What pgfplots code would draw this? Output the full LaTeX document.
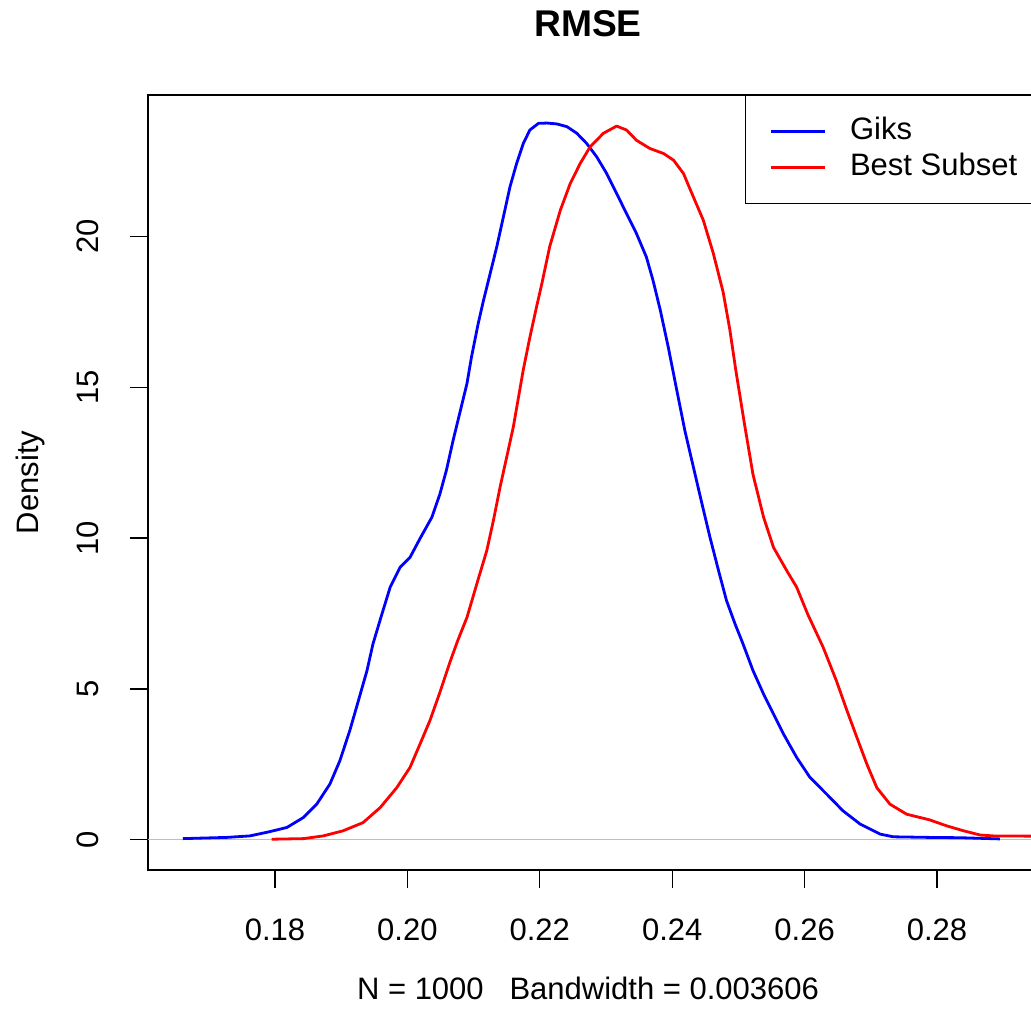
\documentclass[border=0pt]{standalone}
\usepackage{fontspec}
\setmainfont{Liberation Sans}
\usepackage{pgfplots}
\pgfplotsset{compat=1.18}
\definecolor{rblue}{RGB}{0,0,255}
\definecolor{rred}{RGB}{255,0,0}
\definecolor{rgray}{RGB}{190,190,190}
\newcommand{\fs}{\fontsize{15.5}{18}\selectfont}
\begin{document}
\begin{tikzpicture}
\path[use as bounding box] (0,0) rectangle (515.5pt,508.5pt);
\clip (0,0) rectangle (515.5pt,508.5pt);
\begin{axis}[
  at={(74pt,73.5pt)}, anchor=south west,
  scale only axis, width=442.5pt, height=387.5pt,
  xmin=0.16082, xmax=0.2945, ymin=-1.0, ymax=24.68,
  axis line style={line width=0.6pt},
  tick pos=left, tick align=outside, major tick length=9pt,
  tick style={black, line width=0.6pt},
  xtick={0.18,0.20,0.22,0.24,0.26,0.28},
  xticklabels={0.18,0.20,0.22,0.24,0.26,0.28},
  ytick={0,5,10,15,20},
  yticklabels={0,5,10,15,20},
  ticklabel style={font=\fs, inner sep=0pt},
  xticklabel style={anchor=center, yshift=-21pt},
  yticklabel style={xshift=-21pt, rotate=90, anchor=center},
  title={RMSE},
  title style={font=\fontsize{18.6}{22}\selectfont\bfseries, at={(axis description cs:0.4972,1.076)}, anchor=center, inner sep=0pt},
  xlabel={N = 1000\ \ \ Bandwidth = 0.003606},
  xlabel style={font=\fs, at={(axis description cs:0.4972,-0.1523)}, anchor=center, inner sep=0pt},
  ylabel={Density},
  ylabel style={font=\fs, at={(axis description cs:-0.1333,0.5)}, anchor=center, inner sep=0pt},
  legend style={at={(axis description cs:0.67458,1)}, anchor=north west, draw=black, line width=0.6pt, fill=white,
    inner xsep=12pt, inner ysep=9pt, font=\fs, row sep=0pt, cells={anchor=west},
    nodes={inner sep=0pt, text height=13pt, text depth=5pt}},
  legend image code/.code={\draw[#1] (0pt,0pt) -- (27pt,0pt); \path[draw=none,fill=none] (27pt,0pt) -- (39.5pt,0pt);},
  every axis plot/.append style={line width=1.4pt, line join=round},
]
\addplot[rgray, line width=0.5pt, forget plot] coordinates {(0.15,0) (0.30,0)};
\addplot[rblue] coordinates {
(0.1661,0.04) (0.1727,0.08) (0.1762,0.13) (0.1792,0.27) (0.1818,0.41) (0.1843,0.74)
(0.1863,1.18) (0.1883,1.85) (0.1898,2.62) (0.1913,3.62) (0.1926,4.61) (0.1939,5.61)
(0.1948,6.49) (0.1960,7.37) (0.1974,8.37) (0.1989,9.03) (0.2004,9.36) (0.2019,9.98)
(0.2037,10.69) (0.2049,11.45) (0.2059,12.25) (0.2069,13.23) (0.2079,14.13) (0.2090,15.12)
(0.2097,16.02) (0.2107,17.11) (0.2115,17.88) (0.2125,18.76) (0.2135,19.65) (0.2145,20.64)
(0.2155,21.64) (0.2165,22.41) (0.2175,23.07) (0.2185,23.52) (0.2198,23.74) (0.2211,23.75)
(0.2226,23.72) (0.2241,23.63) (0.2256,23.41) (0.2271,23.07) (0.2286,22.63) (0.2301,22.08)
(0.2316,21.42) (0.2331,20.75) (0.2346,20.09) (0.2361,19.31) (0.2371,18.54) (0.2382,17.55)
(0.2394,16.33) (0.2407,14.89) (0.2419,13.57) (0.2432,12.35) (0.2445,11.13) (0.2457,10.03)
(0.2470,8.92) (0.2482,7.93) (0.2495,7.15) (0.2507,6.49) (0.2522,5.61) (0.2538,4.83)
(0.2553,4.17) (0.2568,3.51) (0.2588,2.73) (0.2608,2.07) (0.2633,1.52) (0.2658,0.96)
(0.2684,0.52) (0.2714,0.19) (0.2734,0.10) (0.2789,0.08) (0.2835,0.07) (0.2895,0.03)
};
\addlegendentry{Giks}
\addplot[rred] coordinates {
(0.1795,0.02) (0.1843,0.04) (0.1873,0.13) (0.1903,0.30) (0.1933,0.57) (0.1959,1.07)
(0.1984,1.73) (0.2004,2.40) (0.2019,3.17) (0.2034,3.95) (0.2049,4.88) (0.2064,5.87)
(0.2076,6.60) (0.2090,7.37) (0.2105,8.49) (0.2120,9.59) (0.2130,10.59) (0.2140,11.69)
(0.2150,12.68) (0.2160,13.68) (0.2167,14.56) (0.2175,15.57) (0.2185,16.65) (0.2195,17.65)
(0.2203,18.42) (0.2215,19.66) (0.2231,20.86) (0.2246,21.75) (0.2261,22.41) (0.2276,22.96)
(0.2296,23.41) (0.2316,23.65) (0.2331,23.52) (0.2346,23.18) (0.2366,22.91) (0.2387,22.74)
(0.2402,22.52) (0.2417,22.08) (0.2432,21.30) (0.2447,20.53) (0.2462,19.44) (0.2477,18.14)
(0.2487,16.91) (0.2496,15.57) (0.2509,13.80) (0.2522,12.11) (0.2538,10.69) (0.2553,9.69)
(0.2573,8.92) (0.2588,8.37) (0.2605,7.46) (0.2628,6.38) (0.2648,5.27) (0.2664,4.28)
(0.2679,3.39) (0.2694,2.51) (0.2709,1.73) (0.2729,1.18) (0.2754,0.85) (0.2789,0.66)
(0.2815,0.46) (0.2840,0.30) (0.2865,0.16) (0.2885,0.13) (0.2956,0.12)
};
\addlegendentry{Best Subset}
\end{axis}
\end{tikzpicture}
\end{document}
